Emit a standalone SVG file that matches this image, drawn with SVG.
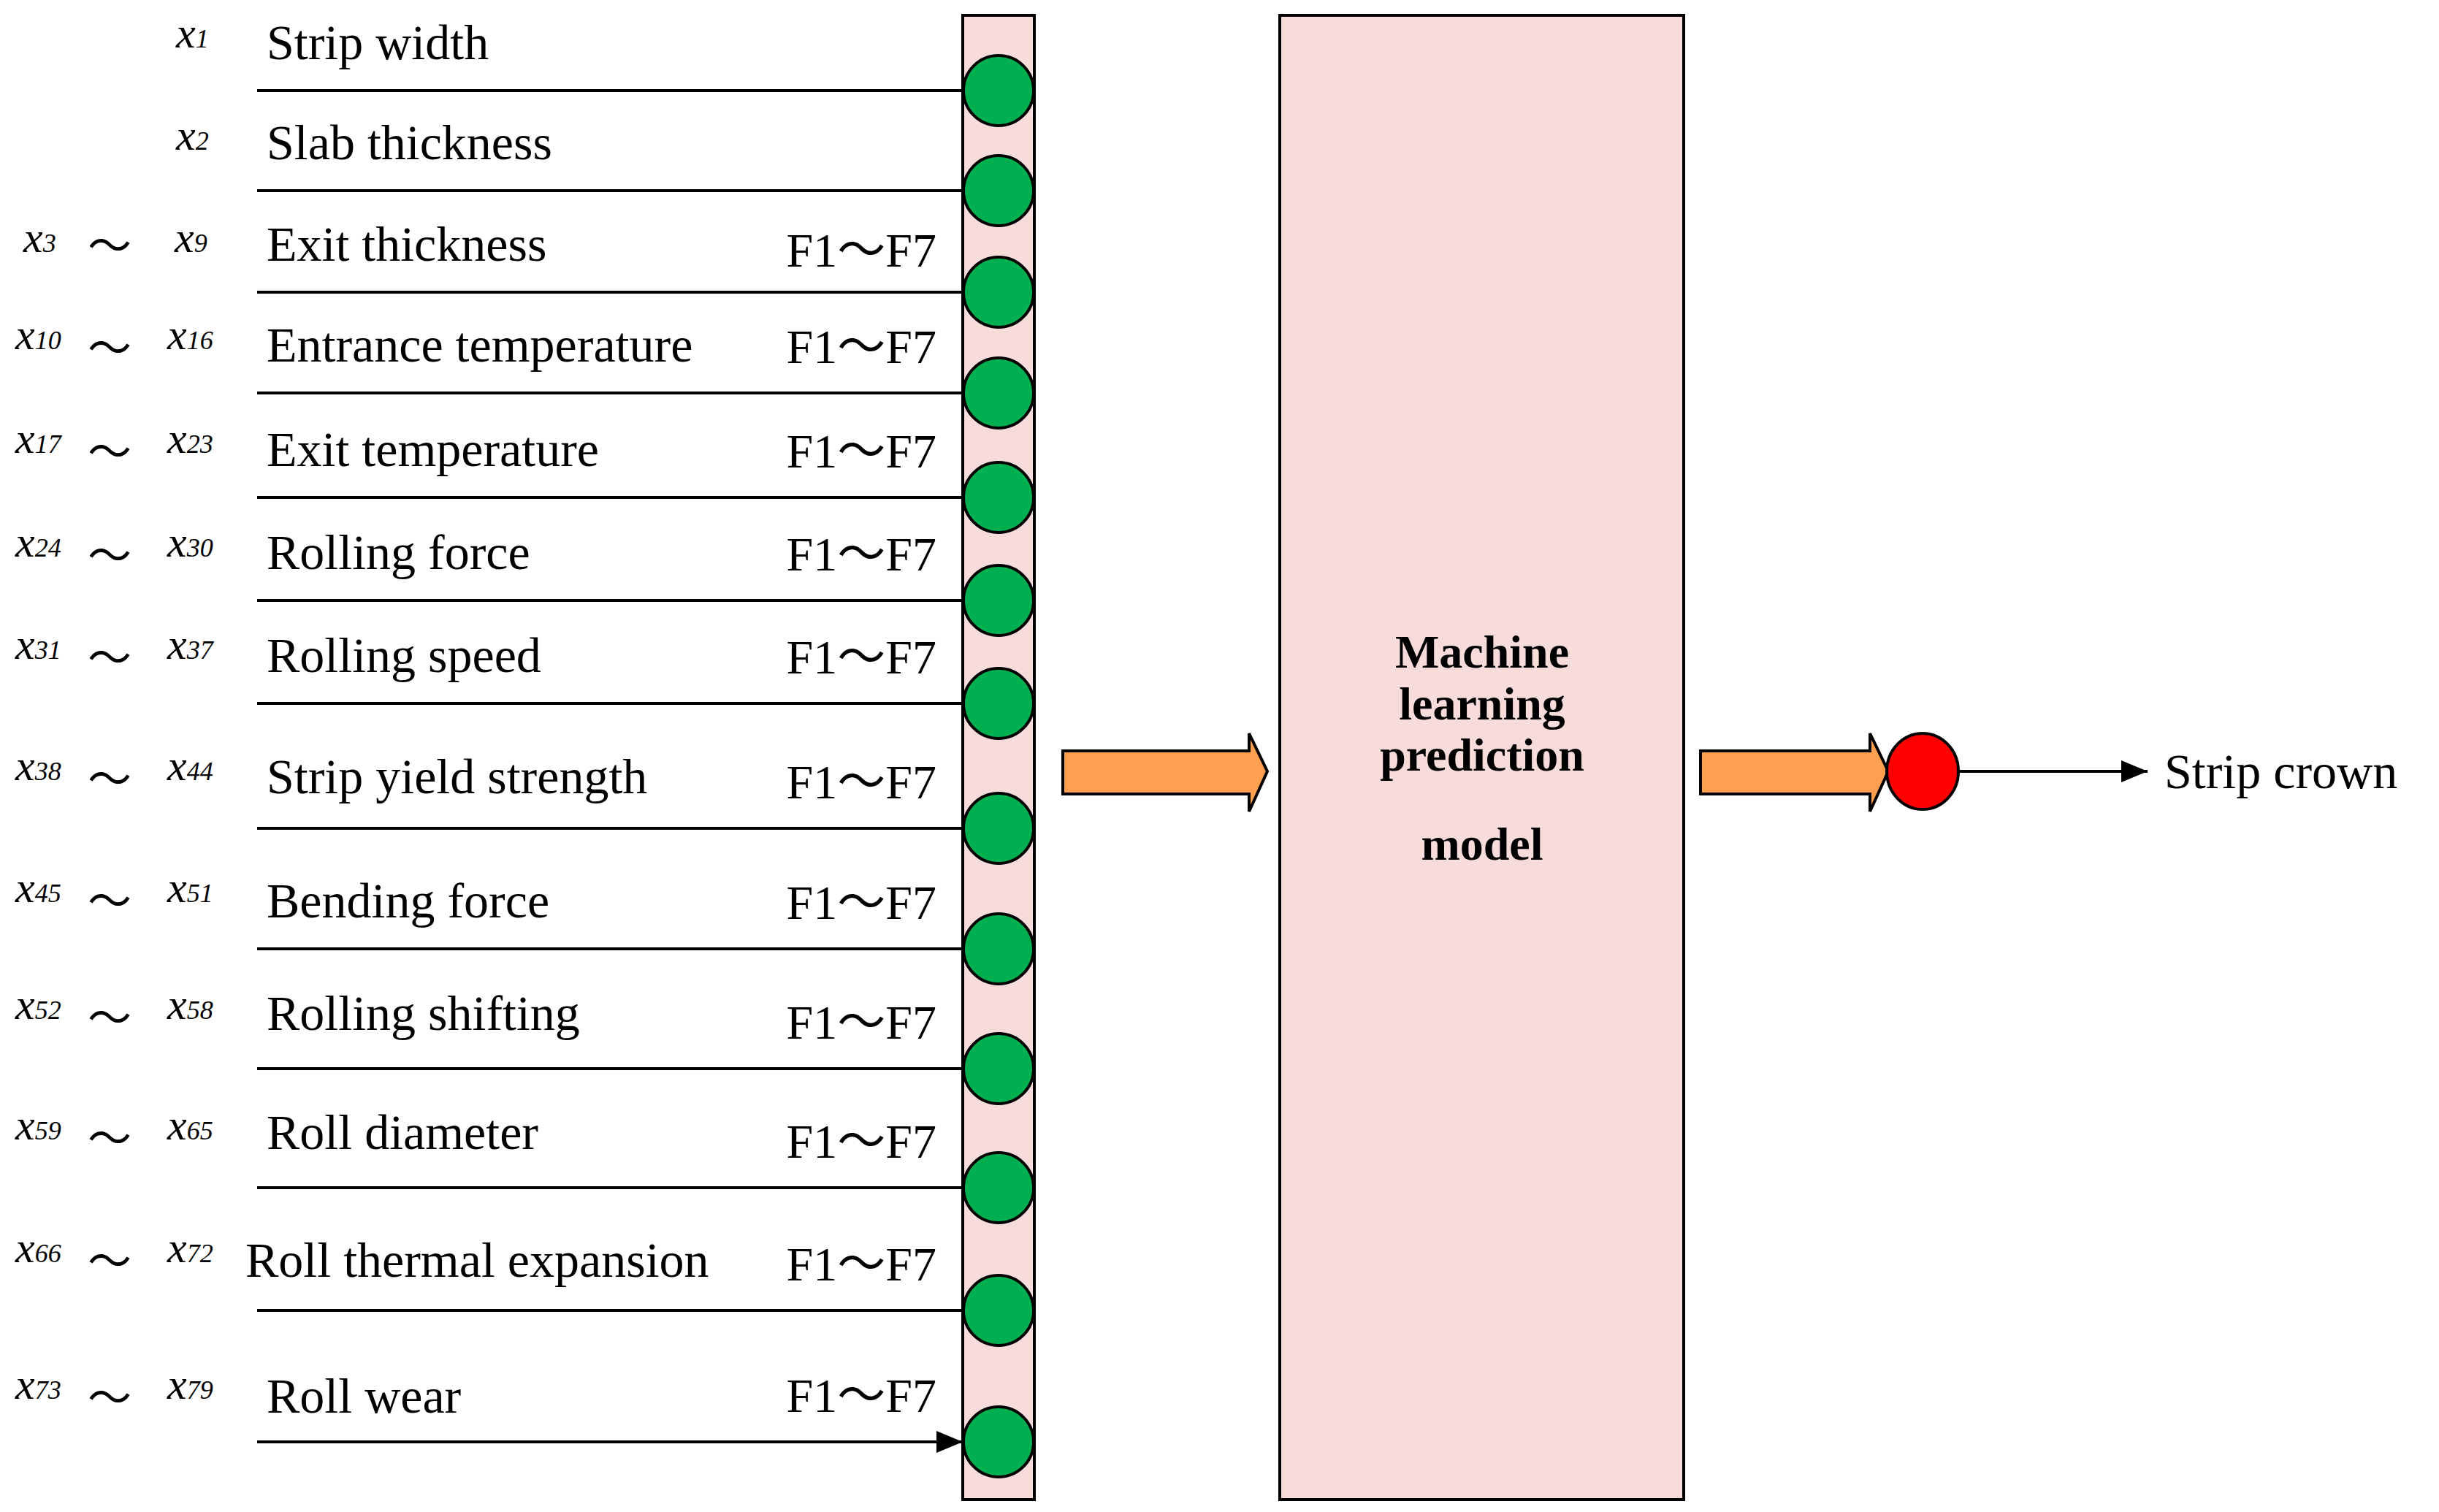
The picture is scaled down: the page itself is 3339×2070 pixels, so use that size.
<svg xmlns="http://www.w3.org/2000/svg" width="3339" height="2070" viewBox="0 0 3339 2070">
<style>
.lbl{font-family:"Liberation Serif","DejaVu Serif",serif;font-size:68px;fill:#000}
.f{font-family:"Liberation Serif","Noto Sans CJK SC",serif;font-size:66px;fill:#000;text-anchor:end}
.x{font-family:"Liberation Serif","DejaVu Serif",serif;font-style:italic;font-size:60px;fill:#000}
.sub{font-size:36px}
.t{font-family:"Liberation Serif","Noto Sans CJK SC",serif;font-size:60px;fill:#000}
.b{font-family:"Liberation Serif","DejaVu Serif",serif;font-size:64px;font-weight:bold;text-anchor:middle}
.dot{fill:#00B050;stroke:#000;stroke-width:4}
.ln{stroke:#000;stroke-width:4;fill:none}
.oa{fill:#FFA050;stroke:#000;stroke-width:4}
</style>
<defs><marker id="ah" viewBox="0 0 10 10" refX="10" refY="5" markerWidth="10" markerHeight="10" markerUnits="userSpaceOnUse" orient="auto"><path d="M0,0L10,5L0,10z"/></marker>
<marker id="ah2" viewBox="0 0 10 10" refX="10" refY="5" markerWidth="36" markerHeight="30" markerUnits="userSpaceOnUse" orient="auto" preserveAspectRatio="none"><path d="M0,0L10,5L0,10z"/></marker></defs>
<g id="inputlayer"><rect x="1318" y="21" width="98" height="2032" fill="#F8DCDB" stroke="#000" stroke-width="4"/></g>
<g id="model"><rect x="1752" y="21" width="553" height="2032" fill="#F8DCDB" stroke="#000" stroke-width="4"/>
<text class="b" x="2029" y="914">Machine</text><text class="b" x="2029" y="985">learning</text><text class="b" x="2029" y="1055">prediction</text><text class="b" x="2029" y="1177">model</text></g>
<g id="connectors">
<path class="ln" marker-end="url(#ah2)" d="M352 124H1318M352 261H1318M352 400H1318M352 538H1318M352 681H1318M352 822H1318M352 963H1318M352 1134H1318M352 1299H1318M352 1463H1318M352 1626H1318M352 1794H1318M352 1974H1318"/>
<path class="oa" d="M1455 1028H1710V1004L1735 1056L1710 1111V1087H1455Z"/>
<path class="oa" d="M2328 1028H2560V1004L2585 1056L2560 1111V1087H2328Z"/>
<path class="ln" marker-end="url(#ah2)" d="M2681 1056H2940"/>
</g>
<g id="nodes">
<circle class="dot" cx="1367" cy="124" r="48"/><circle class="dot" cx="1367" cy="261" r="48"/><circle class="dot" cx="1367" cy="400" r="48"/><circle class="dot" cx="1367" cy="538" r="48"/><circle class="dot" cx="1367" cy="681" r="48"/><circle class="dot" cx="1367" cy="822" r="48"/><circle class="dot" cx="1367" cy="963" r="48"/><circle class="dot" cx="1367" cy="1134" r="48"/><circle class="dot" cx="1367" cy="1299" r="48"/><circle class="dot" cx="1367" cy="1463" r="48"/><circle class="dot" cx="1367" cy="1626" r="48"/><circle class="dot" cx="1367" cy="1794" r="48"/><circle class="dot" cx="1367" cy="1974" r="48"/>
<ellipse id="out" cx="2632" cy="1056" rx="49" ry="52" fill="#FF0000" stroke="#000" stroke-width="4"/>
<text class="lbl" x="2963" y="1079">Strip crown</text>
</g>
<g id="labels">
<text class="lbl" x="365" y="81">Strip width</text>
<text class="lbl" x="365" y="218">Slab thickness</text>
<text class="lbl" x="365" y="357">Exit thickness</text>
<text class="lbl" x="365" y="495">Entrance temperature</text>
<text class="lbl" x="365" y="638">Exit temperature</text>
<text class="lbl" x="365" y="779">Rolling force</text>
<text class="lbl" x="365" y="920">Rolling speed</text>
<text class="lbl" x="365" y="1086">Strip yield strength</text>
<text class="lbl" x="365" y="1256">Bending force</text>
<text class="lbl" x="365" y="1410">Rolling shifting</text>
<text class="lbl" x="365" y="1573">Roll diameter</text>
<text class="lbl" x="336" y="1748">Roll thermal expansion</text>
<text class="lbl" x="365" y="1934">Roll wear</text>
<text class="f" x="1282" y="365">F1～F7</text><text class="f" x="1282" y="497">F1～F7</text><text class="f" x="1282" y="640">F1～F7</text><text class="f" x="1282" y="781">F1～F7</text><text class="f" x="1282" y="922">F1～F7</text><text class="f" x="1282" y="1093">F1～F7</text><text class="f" x="1282" y="1258">F1～F7</text><text class="f" x="1282" y="1422">F1～F7</text><text class="f" x="1282" y="1585">F1～F7</text><text class="f" x="1282" y="1753">F1～F7</text><text class="f" x="1282" y="1933">F1～F7</text>
<text class="x" x="241" y="65">x<tspan class="sub">1</tspan></text>
<text class="x" x="241" y="205">x<tspan class="sub">2</tspan></text>
<text class="x" x="32" y="345">x<tspan class="sub">3</tspan></text><text class="t" x="120" y="358">～</text><text class="x" x="239" y="345">x<tspan class="sub">9</tspan></text>
<text class="x" x="21" y="478">x<tspan class="sub">10</tspan></text><text class="t" x="120" y="498">～</text><text class="x" x="229" y="478">x<tspan class="sub">16</tspan></text>
<text class="x" x="21" y="620">x<tspan class="sub">17</tspan></text><text class="t" x="120" y="640">～</text><text class="x" x="229" y="620">x<tspan class="sub">23</tspan></text>
<text class="x" x="21" y="762">x<tspan class="sub">24</tspan></text><text class="t" x="120" y="782">～</text><text class="x" x="229" y="762">x<tspan class="sub">30</tspan></text>
<text class="x" x="21" y="902">x<tspan class="sub">31</tspan></text><text class="t" x="120" y="922">～</text><text class="x" x="229" y="902">x<tspan class="sub">37</tspan></text>
<text class="x" x="21" y="1068">x<tspan class="sub">38</tspan></text><text class="t" x="120" y="1088">～</text><text class="x" x="229" y="1068">x<tspan class="sub">44</tspan></text>
<text class="x" x="21" y="1235">x<tspan class="sub">45</tspan></text><text class="t" x="120" y="1255">～</text><text class="x" x="229" y="1235">x<tspan class="sub">51</tspan></text>
<text class="x" x="21" y="1395">x<tspan class="sub">52</tspan></text><text class="t" x="120" y="1415">～</text><text class="x" x="229" y="1395">x<tspan class="sub">58</tspan></text>
<text class="x" x="21" y="1560">x<tspan class="sub">59</tspan></text><text class="t" x="120" y="1580">～</text><text class="x" x="229" y="1560">x<tspan class="sub">65</tspan></text>
<text class="x" x="21" y="1728">x<tspan class="sub">66</tspan></text><text class="t" x="120" y="1748">～</text><text class="x" x="229" y="1728">x<tspan class="sub">72</tspan></text>
<text class="x" x="21" y="1915">x<tspan class="sub">73</tspan></text><text class="t" x="120" y="1935">～</text><text class="x" x="229" y="1915">x<tspan class="sub">79</tspan></text>
</g>
</svg>
